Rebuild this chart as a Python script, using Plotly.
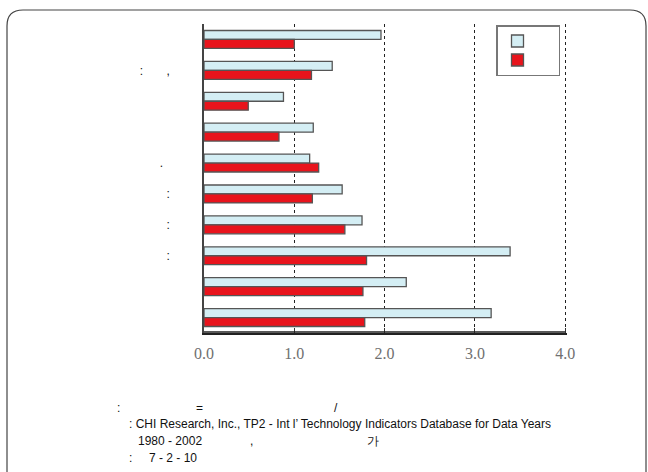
import plotly.graph_objects as go

# ---- data ----
categories = ["c1", "c2", "c3", "c4", "c5", "c6", "c7", "c8", "c9", "c10"]
NB = "\u00a0"
category_labels = ["", ":" + NB * 7 + ",", "", "", "." + NB * 2, ":", ":", ":", "", ""]
series_a = [1.96, 1.42, 0.88, 1.21, 1.17, 1.53, 1.75, 3.39, 2.24, 3.18]   # light blue
series_b = [1.00, 1.19, 0.49, 0.83, 1.27, 1.20, 1.56, 1.80, 1.76, 1.78]   # red
series_names = [NB * 5, NB * 5]
x_ticks = [0, 1, 2, 3, 4]
x_tick_labels = ["0.0", "1.0", "2.0", "3.0", "4.0"]
footer_lines = [
    (115, 408, ":"), (194, 408, "="), (332, 408, "/"),
    (127, 424, ": CHI Research, Inc., TP2 - Int l\u2019 Technology Indicators Database for Data Years"),
    (136, 441, "1980 - 2002"), (248, 441, ","), (365, 441, "\uac00"),
    (127, 458, ":"), (147, 458, "7 - 2 - 10"),
]

W, H = 648, 472
L, R, T, B = 204, 567, 24, 333
X_MAX = 4.02


def px(x):
    return (x - L) / (R - L)


def py(y):
    return (B - y) / (B - T)


fig = go.Figure()
fig.add_trace(go.Bar(
    y=categories, x=series_a, orientation="h", name=series_names[0],
    marker=dict(color="#d4eef4", line=dict(color="#555555", width=1.3)),
))
fig.add_trace(go.Bar(
    y=categories, x=series_b, orientation="h", name=series_names[1],
    marker=dict(color="#e8141c", line=dict(color="#555555", width=1.3)),
))

annotations = []
for x, y, t in footer_lines:
    annotations.append(dict(
        x=px(x), y=py(y), xref="paper", yref="paper", text=t,
        showarrow=False, xanchor="left", yanchor="middle",
        font=dict(family="Liberation Sans, Arial", size=12, color="#111111"),
    ))

frame_path = (
    f"M {px(7)},{py(490)} L {px(7)},{py(26)} Q {px(7)},{py(10)} {px(23)},{py(10)} "
    f"L {px(630)},{py(10)} Q {px(646)},{py(10)} {px(646)},{py(26)} L {px(646)},{py(490)}"
)

fig.update_layout(
    width=W, height=H,
    margin=dict(l=L, r=W - R, t=T, b=H - B, autoexpand=False),
    paper_bgcolor="white", plot_bgcolor="white",
    barmode="group", bargap=0.42, bargroupgap=0.0,
    showlegend=True,
    legend=dict(
        x=px(496), y=py(25), xanchor="left", yanchor="top",
        bgcolor="white", bordercolor="#777777", borderwidth=1.5,
        font=dict(family="Liberation Sans, Arial", size=11),
        traceorder="normal", tracegroupgap=0,
    ),
    xaxis=dict(
        range=[0, X_MAX], tickvals=x_ticks, ticktext=x_tick_labels,
        showgrid=True, gridcolor="#222222", griddash="dot", gridwidth=1.3,
        zeroline=False, showline=True, linecolor="#222222", linewidth=2,
        ticks="inside", ticklen=5, tickcolor="#333333", tickwidth=1.3,
        tickfont=dict(family="Liberation Serif, Times New Roman", size=16, color="#707070"),
        ticklabelstandoff=5, fixedrange=True,
    ),
    yaxis=dict(
        autorange="reversed", tickvals=categories, ticktext=category_labels,
        showgrid=False, zeroline=False, showline=True, linecolor="#444444", linewidth=1.5,
        ticks="", tickfont=dict(family="Liberation Sans, Arial", size=12, color="#111111"),
        ticklabelstandoff=30, fixedrange=True,
    ),
    annotations=annotations,
    shapes=[
        dict(type="path", path=frame_path, xref="paper", yref="paper",
             line=dict(color="#444444", width=1.2)),
        dict(type="line", xref="x", yref="paper", x0=0, x1=x_ticks[-1],
             y0=py(332), y1=py(332), layer="above",
             line=dict(color="#222222", width=1.5)),
    ],
)

fig.write_html(
    "out.html",
    config={"displayModeBar": False},
    post_script="document.body.style.margin='0';document.body.style.padding='0';",
)
